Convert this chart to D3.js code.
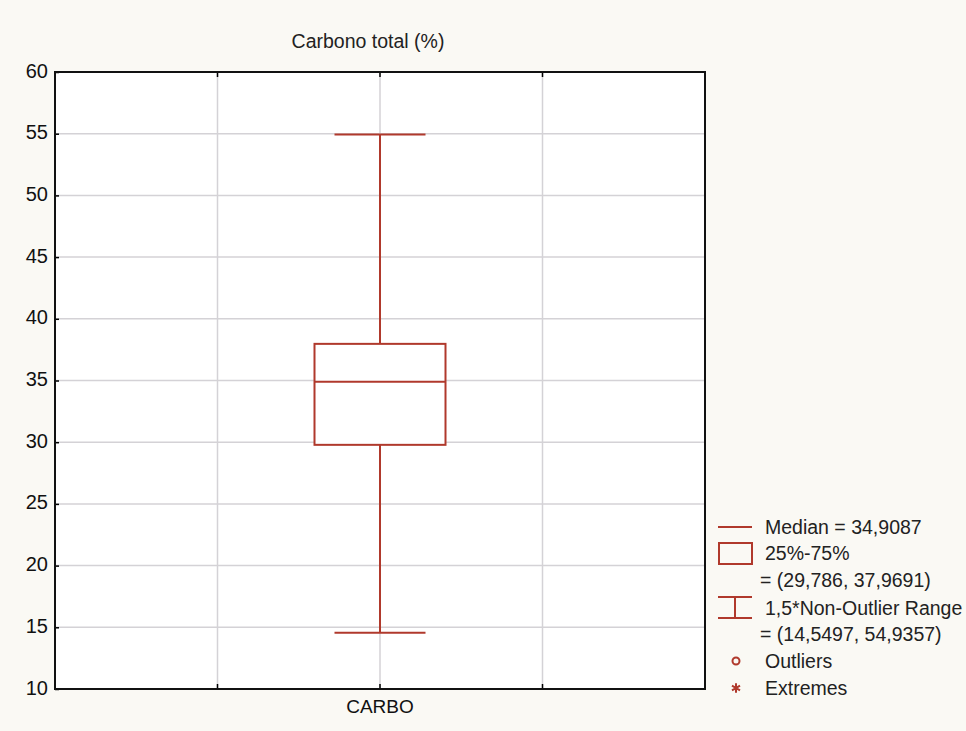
<!DOCTYPE html>
<html><head><meta charset="utf-8">
<script src="https://cdn.jsdelivr.net/npm/d3@7"></script>
<style>body{margin:0;background:#faf9f4;}svg{display:block;font-family:"Liberation Sans",Arial,sans-serif;}</style>
</head><body>
<script>
const title = "Carbono total (%)";
const categories = ["CARBO"];
const medians = [34.9087];
const q1 = [29.786];
const q3 = [37.9691];
const whiskerLow = [14.5497];
const whiskerHigh = [54.9357];
const yTicks = [10,15,20,25,30,35,40,45,50,55,60];
const legendLabels = ["Median = 34,9087","25%-75%","= (29,786, 37,9691)","1,5*Non-Outlier Range","= (14,5497, 54,9357)","Outliers","Extremes"];

const W=966,H=731;
const red="#b0392c";
const svg=d3.select("body").append("svg").attr("width",W).attr("height",H);
svg.append("rect").attr("width",W).attr("height",H).attr("fill","#faf9f4");
const x0=55,x1=705,y0=72,y1=689;
const y=d3.scaleLinear().domain([10,60]).range([y1,y0]);
const x=d3.scaleBand().domain(["_a","_b",...categories,"_c","_d"]).range([x0,x1]);
svg.append("rect").attr("x",x0).attr("y",y0).attr("width",x1-x0).attr("height",y1-y0).attr("fill","#ffffff");
const g=svg.append("g");
yTicks.forEach(t=>{ if(t>10&&t<60) g.append("line").attr("x1",x0).attr("x2",x1).attr("y1",y(t)).attr("y2",y(t)).attr("stroke","#d4d2d6").attr("stroke-width",1.5);});
const vx=[x0+(x1-x0)/4,x0+(x1-x0)/2,x0+3*(x1-x0)/4];
vx.forEach(v=>g.append("line").attr("x1",v).attr("x2",v).attr("y1",y0).attr("y2",y1).attr("stroke","#d4d2d6").attr("stroke-width",1.5));
const ya=svg.append("g").attr("transform",`translate(${x0},0)`).call(d3.axisLeft(y).tickValues(yTicks).tickSize(-4).tickPadding(7));
ya.select(".domain").remove();
ya.selectAll(".tick line").attr("stroke","#000").attr("stroke-width",1.5);
ya.selectAll("text").attr("font-size",20).attr("fill","#111").attr("dy","0.25em");
vx.forEach(v=>{
  svg.append("line").attr("x1",v).attr("x2",v).attr("y1",y0).attr("y2",y0+5).attr("stroke","#000").attr("stroke-width",1.5);
  svg.append("line").attr("x1",v).attr("x2",v).attr("y1",y1).attr("y2",y1-5).attr("stroke","#000").attr("stroke-width",1.5);
});
svg.append("rect").attr("x",x0).attr("y",y0).attr("width",x1-x0).attr("height",y1-y0).attr("fill","none").attr("stroke","#111").attr("stroke-width",2);
categories.forEach(c=>svg.append("text").attr("x",x(c)+x.bandwidth()/2).attr("y",y1+24).attr("text-anchor","middle").attr("font-size",19).attr("fill","#111").text(c));
svg.append("text").attr("x",368).attr("y",48).attr("text-anchor","middle").attr("font-size",19.5).attr("fill","#222").text(title);
categories.forEach((c,i)=>{
  const cx=x(c)+x.bandwidth()/2;
  const bw=131, cw=91;
  const b=svg.append("g").attr("stroke",red).attr("stroke-width",2).attr("fill","none");
  b.append("line").attr("x1",cx).attr("x2",cx).attr("y1",y(q3[i])).attr("y2",y(whiskerHigh[i]));
  b.append("line").attr("x1",cx).attr("x2",cx).attr("y1",y(q1[i])).attr("y2",y(whiskerLow[i]));
  b.append("line").attr("x1",cx-cw/2).attr("x2",cx+cw/2).attr("y1",y(whiskerHigh[i])).attr("y2",y(whiskerHigh[i]));
  b.append("line").attr("x1",cx-cw/2).attr("x2",cx+cw/2).attr("y1",y(whiskerLow[i])).attr("y2",y(whiskerLow[i]));
  b.append("rect").attr("x",cx-bw/2).attr("y",y(q3[i])).attr("width",bw).attr("height",y(q1[i])-y(q3[i])).attr("fill","#fff");
  b.append("line").attr("x1",cx-bw/2).attr("x2",cx+bw/2).attr("y1",y(medians[i])).attr("y2",y(medians[i]));
});
const L=svg.append("g");
const fs=19.5;
L.append("line").attr("x1",718).attr("x2",752).attr("y1",527).attr("y2",527).attr("stroke",red).attr("stroke-width",2);
L.append("rect").attr("x",719).attr("y",543).attr("width",33).attr("height",21).attr("fill","none").attr("stroke",red).attr("stroke-width",2);
L.append("line").attr("x1",718).attr("x2",752).attr("y1",597).attr("y2",597).attr("stroke",red).attr("stroke-width",2);
L.append("line").attr("x1",718).attr("x2",752).attr("y1",618).attr("y2",618).attr("stroke",red).attr("stroke-width",2);
L.append("line").attr("x1",735).attr("x2",735).attr("y1",597).attr("y2",618).attr("stroke",red).attr("stroke-width",2);
L.append("circle").attr("cx",736).attr("cy",661).attr("r",3.5).attr("fill","none").attr("stroke",red).attr("stroke-width",2);
L.append("path").attr("d",d3.symbol(d3.symbolAsterisk||d3.symbolCross,60)()).attr("transform","translate(736,688)").attr("fill",red).attr("stroke",red).attr("stroke-width",2);
const lt=[[765,534],[765,560],[760,587],[765,615],[760,641],[765,668],[765,695]];
legendLabels.forEach((t,i)=>L.append("text").attr("x",lt[i][0]).attr("y",lt[i][1]).attr("font-size",fs).attr("fill","#222").text(t));
</script>
</body></html>
